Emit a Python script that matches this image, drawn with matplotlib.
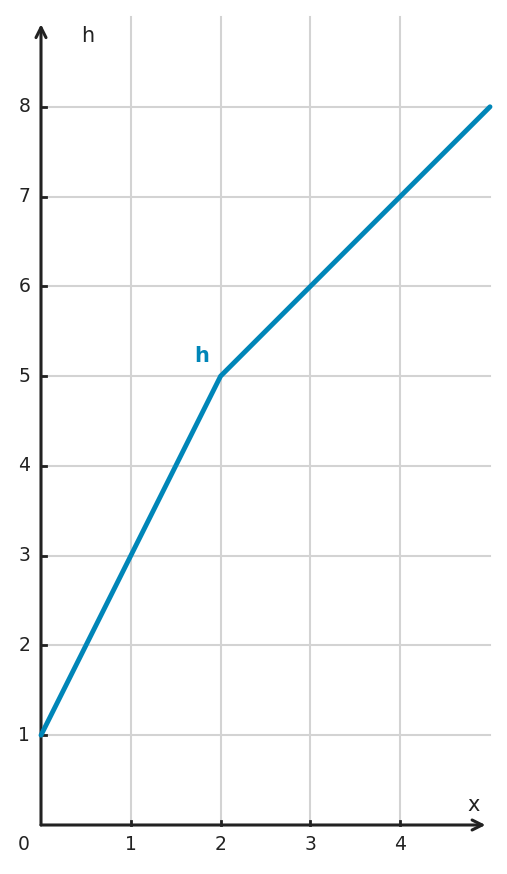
import numpy as np
import matplotlib
matplotlib.use('Agg')
from matplotlib import pyplot as plt

# data
xs = [0, 2, 5]
hs = [1, 5, 8]
xticks = [1, 2, 3, 4]
yticks = [1, 2, 3, 4, 5, 6, 7, 8]

blue = '#0086b8'
dark = '#222222'
gridc = '#d3d3d3'

W, H = 507, 874
fig = plt.figure(figsize=(W / 100, H / 100), dpi=100)
x0, x1 = 41, 490
y0, y1 = 825, 17
ax = fig.add_axes([x0 / W, 1 - y0 / H, (x1 - x0) / W, (y0 - y1) / H])
ax.set_xlim(0, 5)
ax.set_ylim(0, 9)
for s in ax.spines.values():
    s.set_visible(False)
ax.set_xticks([])
ax.set_yticks([])

# grid
for t in xticks:
    ax.plot([t, t], [0, 9], color=gridc, lw=1.5, zorder=1, clip_on=False)
for t in yticks:
    ax.plot([0, 5], [t, t], color=gridc, lw=1.5, zorder=1, clip_on=False)

# axes with arrows
ax.annotate('', xy=(4.95, 0), xytext=(0, 0),
            arrowprops=dict(arrowstyle='->', color=dark, lw=2.2, mutation_scale=18,
                            shrinkA=0, shrinkB=0), annotation_clip=False)
ax.annotate('', xy=(0, 8.92), xytext=(0, 0),
            arrowprops=dict(arrowstyle='->', color=dark, lw=2.2, mutation_scale=18,
                            shrinkA=0, shrinkB=0), annotation_clip=False)

# small tick marks
for t in xticks:
    ax.plot([t, t], [0, 0.04], color=dark, lw=2, zorder=3, clip_on=False)
for t in yticks:
    ax.plot([0, 0.06], [t, t], color=dark, lw=2, zorder=3, clip_on=False)

# tick labels
for t in xticks:
    ax.text(t, -0.22, str(t), ha='center', va='center', fontsize=13.5, color=dark)
for t in yticks:
    ax.text(-0.12, t, str(t), ha='right', va='center', fontsize=13.5, color=dark)
ax.text(-0.19, -0.22, '0', ha='center', va='center', fontsize=13.5, color=dark)

ax.text(0.52, 8.79, 'h', ha='center', va='center', fontsize=15, color=dark)
ax.text(4.82, 0.22, 'x', ha='center', va='center', fontsize=15, color=dark)

# the line
ax.plot(xs, hs, color=blue, lw=3.5, solid_capstyle='round', solid_joinstyle='round',
        zorder=4, clip_on=False)
ax.text(1.79, 5.22, 'h', ha='center', va='center', fontsize=15, color=blue,
        fontweight='bold')

fig.savefig('out.png', dpi=100)
